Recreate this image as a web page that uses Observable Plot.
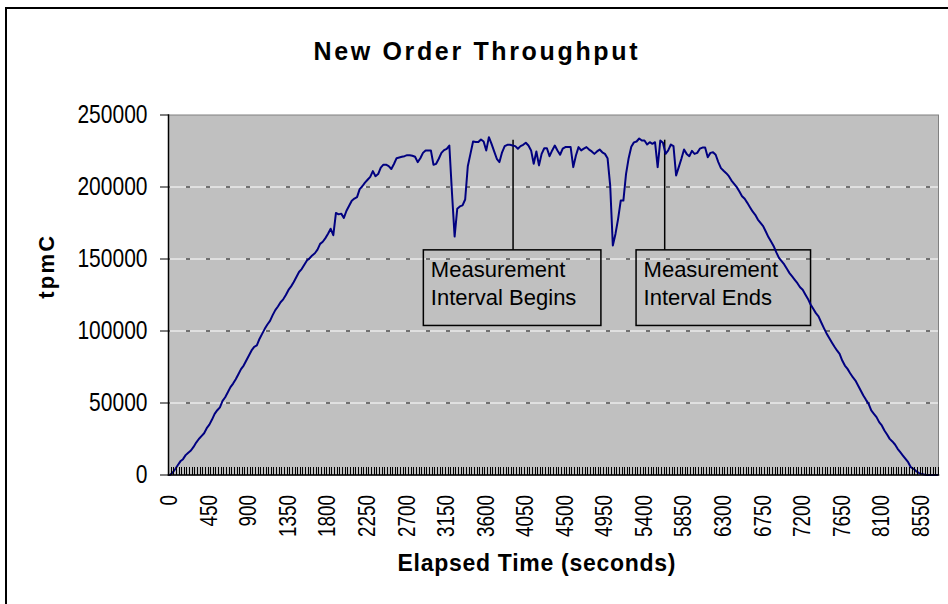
<!DOCTYPE html>
<html><head><meta charset="utf-8">
<script src="https://cdn.jsdelivr.net/npm/d3@7"></script>
<script src="https://cdn.jsdelivr.net/npm/@observablehq/plot@0.6"></script>
<style>
html,body{margin:0;padding:0;background:#fff;overflow:hidden}
#wrap{position:relative;width:948px;height:604px;overflow:hidden;background:#fff}
#border{position:absolute;left:5px;top:7px;width:1000px;height:1000px;border-left:2px solid #000;border-top:2px solid #000}
#chart{position:absolute;left:0;top:0}
</style></head><body>
<div id="wrap"><div id="border"></div><div id="chart"></div></div>
<script>
const title = "New Order Throughput";
const xTitle = "Elapsed Time (seconds)";
const yTitle = "tpmC";
const intervalSeconds = 30;
// New Order throughput (tpmC), one sample per 30-second interval
const tpmC = [
  0,1500,4000,6800,9500,11000,13800,15500,17000,19500,
  22500,25000,27000,29000,32500,35000,38500,42500,45000,47000,
  51500,54000,57500,61000,63500,66500,70000,73500,76000,79500,
  83000,86500,89000,90000,94500,98000,101500,104500,107000,111000,
  114500,117000,120000,122000,125000,128500,131000,134000,137500,141000,
  143000,146000,149000,150500,152500,154000,156500,160500,162000,164500,
  167500,171000,166500,182000,181000,181500,178500,183500,187000,190500,
  192000,193000,198500,200500,203000,205000,207000,211000,207500,209000,
  213500,215500,215500,214500,212500,216000,220000,220500,221000,221400,
  222100,222100,221700,221000,217300,220000,223700,225400,225400,225400,
  215400,216100,219600,223700,225600,226500,228800,196000,165600,184900,
  186500,187200,191300,214400,223000,231600,231200,231200,233000,231600,
  225400,234600,230000,224700,219600,217300,224100,228400,229300,229300,
  228800,228400,226600,228400,229300,230700,228800,225400,216100,224700,
  215000,223000,226900,226900,221400,225400,228800,225400,222400,226600,
  227700,227700,227700,213800,221900,227700,225400,226600,227700,226000,
  224700,223000,224700,226000,224100,223000,220000,201000,159400,167400,
  177900,190600,190600,209000,220000,228000,231000,231600,233700,232300,
  232300,229500,231100,230000,231100,213800,232300,230700,223000,225400,
  229500,228400,208000,213800,219600,226000,223000,221400,225100,223000,
  223700,226600,227400,227400,220700,223700,224100,222400,217300,213100,
  211300,209600,207500,204500,202200,199900,196900,193600,191800,189000,
  186000,183000,180700,177400,175100,172800,169100,165200,162100,158900,
  154600,150800,148500,146200,143200,140200,137900,135500,133200,130400,
  128600,125400,122300,118400,115400,112400,110100,106100,102200,98500,
  95300,92200,89200,86500,84100,79500,76000,73700,70700,67900,
  65600,62200,58700,55200,52200,49400,44800,42500,40200,36700,
  34400,30900,28100,25100,23300,21200,18200,15900,13500,11200,
  8900,5400,4300,2700,1500,800,300,0,0,0,
  0,0
];
const xTickLabels = [0,450,900,1350,1800,2250,2700,3150,3600,4050,4500,4950,5400,5850,6300,6750,7200,7650,8100,8550];
const yTicks = [0,50000,100000,150000,200000,250000];
const noteLabels = ["Measurement\nInterval Begins", "Measurement\nInterval Ends"];
const noteAt = [3905, 5630];       // seconds where the leader line points
const noteLeft = [2890, 5310];     // box extent in seconds
const noteRight = [4910, 7295];
const noteTopValue = 156000, noteBottomValue = 103500, leaderTopValue = 232500;

const series = tpmC.map((v, i) => ({t: i * intervalSeconds, v}));
const half = intervalSeconds / 2;
const xDomain = [-half, (tpmC.length - 1) * intervalSeconds + half];
const boundaries = d3.range(xDomain[0], xDomain[1] + 1, intervalSeconds);
const notes = noteLabels.map((label, i) => ({label, at: noteAt[i], left: noteLeft[i], right: noteRight[i]}));

const FONT = "'Liberation Sans', Arial, sans-serif";

const chart = Plot.plot({
  width: 948, height: 604,
  marginLeft: 168, marginRight: 10, marginTop: 114.5, marginBottom: 129.5,
  style: {fontFamily: FONT, background: "transparent", color: "#000"},
  x: {domain: xDomain, axis: null, label: null},
  y: {domain: [0, 250000], axis: null, label: null},
  marks: [
    Plot.frame({fill: "#c0c0c0", stroke: "#808080"}),
    Plot.gridY(yTicks.filter(d => d > 0 && d < 250000), {stroke: "#fff", strokeOpacity: 1, strokeWidth: 1}),
    Plot.gridY(yTicks.filter(d => d > 0 && d < 250000), {stroke: "#000", strokeOpacity: 1, strokeWidth: 1, strokeDasharray: "4,16", strokeDashoffset: 2}),
    Plot.rect(notes, {x1: "left", x2: "right", y1: noteBottomValue, y2: noteTopValue, fill: "none", stroke: "#000", strokeWidth: 1.5}),
    Plot.ruleX(notes, {x: "at", y1: noteTopValue, y2: leaderTopValue, stroke: "#000", strokeWidth: 1.5}),
    Plot.text(notes, {x: "left", y: noteTopValue, text: "label", textAnchor: "start", lineAnchor: "top", lineHeight: 1.29, dx: 7, dy: 6.5, fontSize: 22, fill: "#000"}),
    Plot.line(series, {x: "t", y: "v", stroke: "#000080", strokeWidth: 2}),
    Plot.frame({anchor: "left", stroke: "#000", strokeWidth: 1.5}),
    Plot.frame({anchor: "bottom", stroke: "#000", strokeWidth: 1.5}),
    Plot.axisY(yTicks, {tickSize: 8, tickPadding: 13, tickFormat: d3.format("d"), fontSize: 25, label: null}),
    Plot.axisX(boundaries, {tickSize: -8, tickFormat: () => "", label: null, shapeRendering: "crispEdges"}),
    Plot.axisX(xTickLabels, {tickSize: 0, tickPadding: 20, tickRotate: -90, tickFormat: d3.format("d"), fontSize: 23, label: null}),
    Plot.text([title], {frameAnchor: "top", dy: -72.5, dx: -78, fontSize: 25, fontWeight: "bold", fill: "#000"}),
    Plot.text([xTitle], {frameAnchor: "bottom", dy: 96.4, dx: -17, fontSize: 23, fontWeight: "bold", fill: "#000"}),
    Plot.text([yTitle], {frameAnchor: "left", dx: -121.7, dy: 3.8, rotate: -90, fontSize: 22, fontWeight: "bold", fill: "#000"})
  ]
});
document.getElementById("chart").appendChild(chart);

const svg = d3.select(chart);
function squeeze(sel, ratio) {
  sel.each(function() {
    const w = this.getComputedTextLength();
    if (w > 0) {
      this.setAttribute("textLength", (w * ratio).toFixed(1));
      this.setAttribute("lengthAdjust", "spacingAndGlyphs");
    }
  });
}
squeeze(svg.selectAll('g[aria-label="y-axis tick label"] text'), 0.84);
squeeze(svg.selectAll('g[aria-label="x-axis tick label"] text'), 0.82);
svg.selectAll("text").each(function() {
  const t = this.textContent;
  const width = t === title ? 324 : t === xTitle ? 278 : t === yTitle ? 63 : null;
  if (width) {
    this.setAttribute("textLength", width);
    this.setAttribute("lengthAdjust", "spacing");
  }
});
</script>
</body></html>
